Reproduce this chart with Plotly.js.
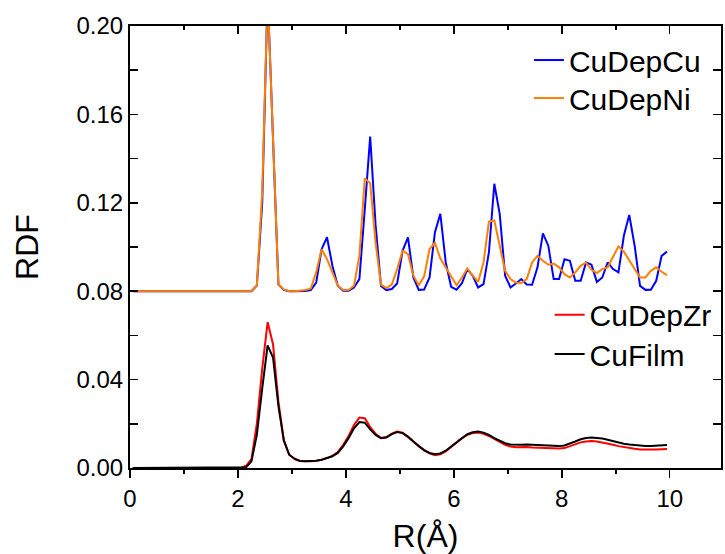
<!DOCTYPE html>
<html>
<head>
<meta charset="utf-8">
<script src="https://cdn.plot.ly/plotly-3.0.1.min.js"></script>
<style>html,body{margin:0;padding:0;background:#fff;}#chart{width:725px;height:554px;}</style>
</head>
<body>
<div id="chart"></div>
<script>
const R = [0.05,0.15,0.25,0.35,0.45,0.55,0.65,0.75,0.85,0.95,
1.05,1.15,1.25,1.35,1.45,1.55,1.65,1.75,1.85,1.95,
2.05,2.15,2.25,2.35,2.45,2.55,2.65,2.75,2.85,2.95,
3.05,3.15,3.25,3.35,3.45,3.55,3.65,3.75,3.85,3.95,
4.05,4.15,4.25,4.35,4.45,4.55,4.65,4.75,4.85,4.95,
5.05,5.15,5.25,5.35,5.45,5.55,5.65,5.75,5.85,5.95,
6.05,6.15,6.25,6.35,6.45,6.55,6.65,6.75,6.85,6.95,
7.05,7.15,7.25,7.35,7.45,7.55,7.65,7.75,7.85,7.95,
8.05,8.15,8.25,8.35,8.45,8.55,8.65,8.75,8.85,8.95,
9.05,9.15,9.25,9.35,9.45,9.55,9.65,9.75,9.85,9.95];

const CuDepCu = [0.08,0.08,0.08,0.08,0.08,0.08,0.08,0.08,0.08,0.08,
0.08,0.08,0.08,0.08,0.08,0.08,0.08,0.08,0.08,0.08,
0.08,0.08,0.08,0.0825,0.12,0.215,0.147,0.083,0.0806,0.080,
0.080,0.080,0.0801,0.0805,0.0839,0.099,0.1044,0.0915,0.0825,0.0802,
0.0802,0.0817,0.0855,0.117,0.150,0.110,0.0824,0.0805,0.081,0.0835,
0.0983,0.1044,0.0862,0.0806,0.0807,0.0862,0.1067,0.115,0.093,0.082,
0.0807,0.0836,0.090,0.087,0.0817,0.0832,0.0976,0.1286,0.115,0.087,
0.0817,0.0835,0.0855,0.083,0.0829,0.0908,0.1062,0.1006,0.0855,0.0855,
0.0945,0.0938,0.0847,0.0847,0.093,0.092,0.0842,0.0862,0.093,0.090,
0.0885,0.1051,0.1145,0.1006,0.0824,0.0806,0.0807,0.0847,0.096,0.0979];

const CuDepNi = [0.08,0.08,0.08,0.08,0.08,0.08,0.08,0.08,0.08,0.08,
0.08,0.08,0.08,0.08,0.08,0.08,0.08,0.08,0.08,0.08,
0.08,0.08,0.08,0.0825,0.125,0.215,0.145,0.083,0.0808,0.080,
0.080,0.0801,0.0805,0.0812,0.0885,0.099,0.0945,0.0885,0.0825,0.0805,
0.0805,0.0825,0.096,0.131,0.129,0.102,0.083,0.0814,0.083,0.090,
0.0983,0.0968,0.087,0.0827,0.0867,0.0991,0.1018,0.0948,0.0908,0.087,
0.0827,0.0862,0.0903,0.087,0.0842,0.093,0.1115,0.112,0.1006,0.0892,
0.0855,0.0839,0.0837,0.0855,0.093,0.096,0.0938,0.092,0.0925,0.0908,
0.0877,0.0862,0.0885,0.0915,0.093,0.0897,0.0882,0.090,0.0908,0.0953,
0.1003,0.0979,0.0942,0.090,0.0862,0.0862,0.0892,0.0908,0.0888,0.0873];

const CuDepZr = [0,0,0,0,0,0,0,0,0,0,
0,0,0,0,0,0,0,0,0,0,
0,0.001,0.004,0.02,0.045,0.066,0.056,0.03,0.0125,0.006,
0.004,0.0032,0.003,0.003,0.0033,0.0037,0.0045,0.0055,0.0072,0.0105,
0.0145,0.0195,0.0228,0.0225,0.0185,0.0155,0.0136,0.014,0.0155,0.0165,
0.016,0.0142,0.012,0.0098,0.008,0.0066,0.0058,0.0062,0.0075,0.0095,
0.0115,0.0135,0.015,0.0158,0.016,0.0155,0.0145,0.013,0.0118,0.0105,
0.0097,0.0094,0.0095,0.0095,0.0093,0.0092,0.0091,0.009,0.0088,0.0088,
0.009,0.0098,0.0108,0.0116,0.012,0.0122,0.012,0.0116,0.0111,0.0105,
0.0099,0.0094,0.009,0.0087,0.0084,0.0083,0.0083,0.0084,0.0085,0.0086];

const CuFilm = [0,0,0,0,0,0,0,0,0,0,
0,0,0,0,0,0,0,0,0,0,
0,0.0003,0.003,0.015,0.036,0.0555,0.05,0.028,0.0125,0.006,
0.0042,0.0032,0.003,0.003,0.0033,0.0037,0.0044,0.0053,0.0068,0.0098,
0.0135,0.018,0.0208,0.0205,0.0175,0.015,0.0135,0.0138,0.0153,0.0163,
0.0158,0.0142,0.012,0.0098,0.008,0.0068,0.0062,0.0066,0.0078,0.0097,
0.0117,0.0137,0.0153,0.0162,0.0165,0.016,0.015,0.0135,0.0123,0.0112,
0.0106,0.0104,0.0105,0.0106,0.0105,0.0103,0.0101,0.01,0.0099,0.0099,
0.0102,0.011,0.012,0.013,0.0136,0.0138,0.0137,0.0133,0.0128,0.0121,
0.0115,0.011,0.0106,0.0103,0.0101,0.01,0.01,0.0101,0.0103,0.0104];

const seriesNames = ["CuDepCu","CuDepNi","CuDepZr","CuFilm"];
const seriesColors = ["#0000ff","#ff8000","#ff0000","#000000"];
const seriesData = [CuDepCu, CuDepNi, CuDepZr, CuFilm];
const seriesLegend = ["legend","legend2","legend3","legend4"];

const traces = seriesData.map((ys, i) => ({
  x: R, y: ys, type: "scatter", mode: "lines", name: seriesNames[i],
  line: {color: seriesColors[i], width: 2},
  legend: seriesLegend[i]
}));

const font = "Liberation Sans, Arial, sans-serif";
function leg(x, y) {
  return {x: x, y: y, xanchor: "left", yanchor: "middle",
    bgcolor: "rgba(0,0,0,0)", borderwidth: 0,
    font: {size: 30, family: font}};
}
const layout = {
  width: 725, height: 554,
  margin: {l: 130, r: 4, t: 26, b: 86},
  paper_bgcolor: "#fff", plot_bgcolor: "#fff",
  font: {family: font, color: "#000"},
  showlegend: true,
  xaxis: {
    range: [0, 10.95], tickvals: [0,2,4,6,8,10], ticktext: ["0","2","4","6","8","10"],
    ticks: "outside", ticklen: 8, tickwidth: 1.5, tickcolor: "#000",
    minor: {dtick: 1, tick0: 0, ticks: "outside", ticklen: 4, tickwidth: 1.5, tickcolor: "#000"},
    showline: true, linecolor: "#000", linewidth: 2, mirror: true,
    showgrid: false, zeroline: false,
    tickfont: {size: 24, family: font},
    title: {text: "R(Å)", font: {size: 32, family: font}, standoff: 14}
  },
  xaxis2: {
    overlaying: "x", matches: "x", side: "top", anchor: "y",
    range: [0, 10.95], tickvals: [0,2,4,6,8,10], showticklabels: false,
    ticks: "inside", ticklen: 8, tickwidth: 1.5, tickcolor: "#000",
    minor: {dtick: 1, tick0: 0, ticks: "inside", ticklen: 4, tickwidth: 1.5, tickcolor: "#000"},
    showline: false, showgrid: false, zeroline: false
  },
  yaxis: {
    range: [0, 0.2], tickvals: [0,0.04,0.08,0.12,0.16,0.2],
    ticktext: ["0.00","0.04","0.08","0.12","0.16","0.20"],
    ticks: "inside", ticklen: 8, tickwidth: 1.5, tickcolor: "#000",
    minor: {dtick: 0.02, tick0: 0, ticks: "inside", ticklen: 4, tickwidth: 1.5, tickcolor: "#000"},
    showline: true, linecolor: "#000", linewidth: 2, mirror: "allticks",
    showgrid: false, zeroline: false,
    tickfont: {size: 24, family: font},
    title: {text: "RDF", font: {size: 32, family: font}, standoff: 28}
  },
  legend: leg(0.675, 0.923),
  legend2: leg(0.675, 0.837),
  legend3: leg(0.71, 0.347),
  legend4: leg(0.71, 0.258)
};

// invisible trace to activate the top mirror axis
traces.push({x: [R[0]], y: [CuFilm[0]], xaxis: "x2", yaxis: "y", type: "scatter", mode: "lines",
  showlegend: false, hoverinfo: "skip", line: {width: 0}});

Plotly.newPlot("chart", traces, layout, {displayModeBar: false, staticPlot: true});
</script>
</body>
</html>
